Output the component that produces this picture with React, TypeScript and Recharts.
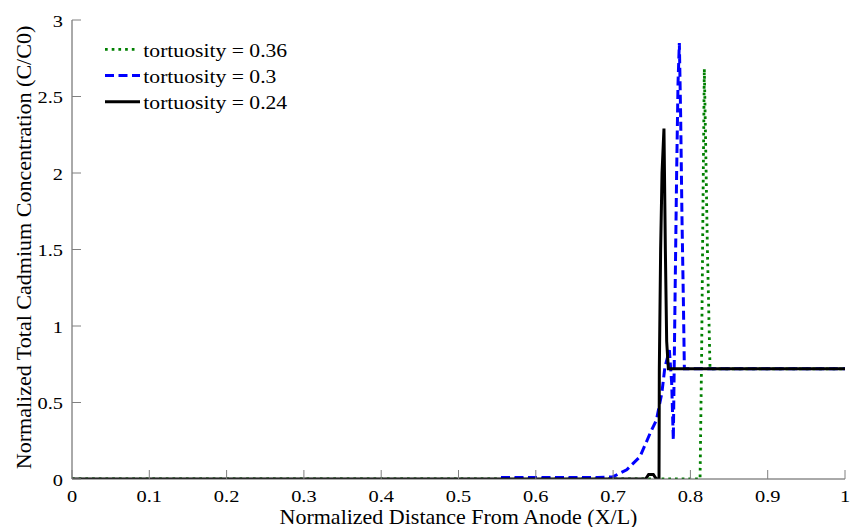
import React from 'react';
import { LineChart, Line, XAxis, YAxis, Legend, Label } from 'recharts';

// tortuosity = 0.36 (green, dotted)
const greenX = [0, 0.742, 0.8125, 0.8145, 0.8163, 0.818, 0.8197, 0.822, 0.8254, 1];
const greenY = [0, 0, 0, 0.8, 1.8, 2.68, 2.2, 1.5, 0.72, 0.72];

// tortuosity = 0.3 (blue, dashed)
const blueX = [0.555, 0.68, 0.7, 0.7176, 0.7348, 0.748, 0.756, 0.763, 0.767, 0.7728, 0.7758, 0.7779, 0.7801, 0.7822, 0.784, 0.7857, 0.7874, 0.7891, 0.7909, 0.7922, 1];
const blueY = [0.01, 0.01, 0.015, 0.06, 0.146, 0.3, 0.385, 0.56, 0.73, 0.843, 0.625, 0.255, 1.17, 2.0, 2.59, 2.85, 2.37, 1.71, 1.17, 0.72, 0.72];

// tortuosity = 0.24 (black, solid)
const blackX = [0, 0.742, 0.746, 0.752, 0.756, 0.7594, 0.7598, 0.7615, 0.7633, 0.7658, 0.7676, 0.7693, 0.7715, 1];
const blackY = [0, 0, 0.03, 0.03, 0, 0, 0.72, 1.5, 2.0, 2.29, 1.5, 0.9, 0.72, 0.72];

const xTicks = [0, 0.1, 0.2, 0.3, 0.4, 0.5, 0.6, 0.7, 0.8, 0.9, 1];
const yTicks = [0, 0.5, 1, 1.5, 2, 2.5, 3];

const toPoints = (xs: number[], ys: number[]) => xs.map((x, i) => ({ x, y: ys[i] }));

const series = [
  { name: 'tortuosity = 0.36', data: toPoints(greenX, greenY), color: '#008000', dash: '2.7 4', width: 2.8 },
  { name: 'tortuosity = 0.3', data: toPoints(blueX, blueY), color: '#0000ff', dash: '9 4.5', width: 3 },
  { name: 'tortuosity = 0.24', data: toPoints(blackX, blackY), color: '#000000', dash: undefined, width: 3 },
];

const FONT = 'Liberation Serif';
const TICK_LEN = 9;
const TICK_COLOR = '#808080';
const BOX_COLOR = '#555555';

// the source figure is stretched sideways a little, so text gets a horizontal scale
const BottomTick = (props: any) => {
  const { x, y, payload } = props;
  return (
    <g>
      <line x1={x} x2={x} y1={y} y2={y - TICK_LEN} stroke={TICK_COLOR} strokeWidth={1} />
      <text
        transform={`translate(${x},${y + 22.5}) scale(1.2,1)`}
        textAnchor="middle"
        fontFamily={FONT}
        fontSize={17}
        fill="#000"
      >
        {String(payload.value)}
      </text>
    </g>
  );
};

const LeftTick = (props: any) => {
  const { x, y, payload } = props;
  return (
    <g>
      <line x1={x} x2={x + TICK_LEN} y1={y} y2={y} stroke={TICK_COLOR} strokeWidth={1} />
      <text
        transform={`translate(${x - 9},${y + 6.5}) scale(1.2,1)`}
        textAnchor="end"
        fontFamily={FONT}
        fontSize={17}
        fill="#000"
      >
        {String(payload.value)}
      </text>
    </g>
  );
};

const TopTick = (props: any) => {
  const { x, y } = props;
  return <line x1={x} x2={x} y1={y} y2={y + TICK_LEN} stroke={TICK_COLOR} strokeWidth={1} />;
};

const RightTick = (props: any) => {
  const { x, y } = props;
  return <line x1={x} x2={x - TICK_LEN} y1={y} y2={y} stroke={TICK_COLOR} strokeWidth={1} />;
};

const XTitle = (props: any) => {
  const { x, y, width, height } = props.viewBox;
  return (
    <text
      transform={`translate(${x + width / 2},${y + height - 3.5}) scale(1.1,1)`}
      textAnchor="middle"
      fontFamily={FONT}
      fontSize={20}
      fill="#000"
    >
      Normalized Distance From Anode (X/L)
    </text>
  );
};

const YTitle = (props: any) => {
  const { y, height } = props.viewBox;
  return (
    <text
      transform={`translate(31,${y + height / 2 - 2}) rotate(-90) scale(1.05,1)`}
      textAnchor="middle"
      fontFamily={FONT}
      fontSize={21}
      fill="#000"
    >
      Normalized Total Cadmium Concentration (C/C0)
    </text>
  );
};

const LegendBox = () => (
  <svg width={200} height={84} style={{ display: 'block' }}>
    {series.map((s, i) => {
      const cy = 13.3 + i * 26.2;
      return (
        <g key={s.name}>
          <line x1={5} x2={i === 0 ? 36.7 : 40} y1={cy} y2={cy} stroke={s.color} strokeWidth={s.width} strokeDasharray={s.dash} />
          <text transform={`translate(43.3,${cy + 7.5}) scale(1.14,1)`} fontFamily={FONT} fontSize={19} fill="#000">
            {s.name}
          </text>
        </g>
      );
    })}
  </svg>
);

export default function App() {
  return (
    <div style={{ position: 'absolute', left: 0, top: 0, background: '#fff' }}>
      <LineChart width={855} height={527} margin={{ top: 20, right: 10, bottom: 0, left: 0 }}>
        <XAxis
          dataKey="x"
          type="number"
          domain={[0, 1]}
          ticks={xTicks}
          allowDataOverflow
          height={48}
          tickSize={0}
          tickMargin={0}
          tick={<BottomTick />}
          axisLine={{ stroke: BOX_COLOR }}
        >
          <Label content={<XTitle />} />
        </XAxis>
        <XAxis
          xAxisId="top"
          orientation="top"
          type="number"
          domain={[0, 1]}
          ticks={xTicks}
          allowDataOverflow
          height={0}
          tickSize={0}
          tickMargin={0}
          tick={<TopTick />}
          axisLine={{ stroke: BOX_COLOR }}
        />
        <YAxis
          type="number"
          domain={[0, 3]}
          ticks={yTicks}
          allowDataOverflow
          width={72}
          tickSize={0}
          tickMargin={0}
          tick={<LeftTick />}
          axisLine={{ stroke: BOX_COLOR }}
        >
          <Label content={<YTitle />} />
        </YAxis>
        <YAxis
          yAxisId="right"
          orientation="right"
          type="number"
          domain={[0, 3]}
          ticks={yTicks}
          allowDataOverflow
          width={0}
          tickSize={0}
          tickMargin={0}
          tick={<RightTick />}
          axisLine={{ stroke: BOX_COLOR }}
        />
        <Legend
          layout="vertical"
          align="center"
          verticalAlign="middle"
          content={<LegendBox />}
          wrapperStyle={{ top: 36, left: 100, width: 'auto', height: 'auto' }}
        />
        {series.map((s) => (
          <Line
            key={s.name}
            data={s.data}
            dataKey="y"
            name={s.name}
            type="linear"
            stroke={s.color}
            strokeWidth={s.width}
            strokeDasharray={s.dash}
            dot={false}
            activeDot={false}
            isAnimationActive={false}
          />
        ))}
      </LineChart>
    </div>
  );
}
